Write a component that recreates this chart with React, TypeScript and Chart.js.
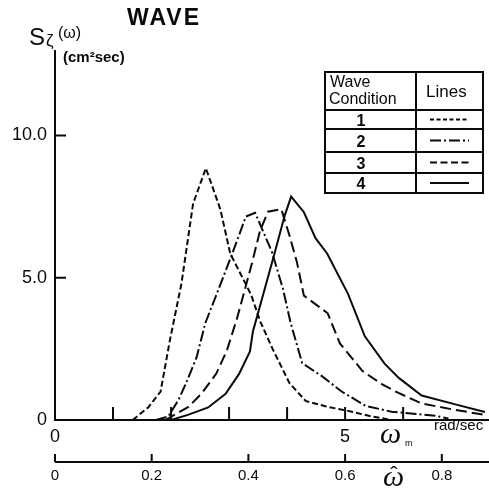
import React, { useEffect, useRef } from "react";
import { Chart, registerables } from "chart.js";

Chart.register(...registerables);

// Wave condition 1 (fine dashed)
const omega1 = [1.34, 1.61, 1.82, 1.98, 2.18, 2.38, 2.6, 2.85, 3.02, 3.38, 3.54, 3.75, 4.04, 4.32, 4.66, 5.05, 5.45, 5.8];
const spectrum1 = [0, 0.45, 1.0, 2.8, 4.8, 7.6, 8.85, 7.4, 5.85, 4.4, 3.45, 2.5, 1.3, 0.67, 0.48, 0.32, 0.13, 0];
// Wave condition 2 (dash-dot)
const omega2 = [1.74, 1.95, 2.13, 2.26, 2.44, 2.59, 2.81, 3.05, 3.29, 3.45, 3.55, 3.74, 3.93, 4.06, 4.26, 4.6, 4.94, 5.35, 5.8, 6.55, 6.78];
const spectrum2 = [0, 0.12, 0.71, 1.3, 2.2, 3.4, 4.55, 5.82, 7.15, 7.28, 6.8, 5.9, 4.6, 3.42, 2.0, 1.54, 1.0, 0.5, 0.29, 0.15, 0.05];
// Wave condition 3 (dashed)
const omega3 = [1.9, 2.3, 2.53, 2.78, 2.96, 3.14, 3.39, 3.53, 3.67, 3.9, 4.04, 4.17, 4.29, 4.7, 4.91, 5.3, 5.64, 5.92, 6.32, 6.83, 7.41];
const spectrum3 = [0, 0.46, 0.94, 1.63, 2.43, 3.59, 5.47, 6.62, 7.32, 7.41, 6.49, 5.54, 4.37, 3.75, 2.69, 1.72, 1.25, 0.95, 0.58, 0.38, 0.18];
// Wave condition 4 (solid)
const omega4 = [2.0, 2.29, 2.64, 2.94, 3.17, 3.36, 3.41, 3.6, 3.79, 3.96, 4.07, 4.29, 4.49, 4.69, 5.05, 5.34, 5.68, 5.93, 6.32, 6.9, 7.41];
const spectrum4 = [0, 0.18, 0.44, 0.92, 1.61, 2.41, 3.1, 4.5, 5.9, 7.19, 7.85, 7.3, 6.39, 5.85, 4.43, 2.94, 1.98, 1.47, 0.86, 0.55, 0.28];

const conditions = ["1", "2", "3", "4"];
const yTickValues = [0, 5, 10];
const omegaLabelTicks = [0, 5];
const omegaTickMarks = [1, 2, 3, 4, 5, 6];
const hatTickValues = [0, 0.2, 0.4, 0.6, 0.8];

const S_MAX = 13;
const OMEGA_MAX = 7.48;
const HAT_PER_OMEGA = 0.12;

const seriesOmega = [omega1, omega2, omega3, omega4];
const seriesSpectrum = [spectrum1, spectrum2, spectrum3, spectrum4];
const lineDashes: number[][] = [[6, 3], [11, 3, 2, 3], [11, 5], []];
const legendDashes: number[][] = [[4, 2.5], [11, 3, 2, 3], [7, 3.5], []];

const SANS = '"Liberation Sans", Arial, sans-serif';
const SERIF = '"Liberation Serif", "Times New Roman", serif';
const INK = "#0a0a0a";

function txt(ctx: CanvasRenderingContext2D, s: string, x: number, y: number, font: string, align: CanvasTextAlign = "left") {
  ctx.font = font;
  ctx.textAlign = align;
  ctx.textBaseline = "alphabetic";
  ctx.fillText(s, x, y);
}

const decorPlugin = {
  id: "waveDecor",
  afterDraw(chart: any) {
    const ctx: CanvasRenderingContext2D = chart.ctx;
    const xs = chart.scales.x;
    const ys = chart.scales.y;
    const xh = chart.scales.x2;
    const x0 = xs.getPixelForValue(0);
    const xEnd = xs.getPixelForValue(OMEGA_MAX);
    const y0 = ys.getPixelForValue(0);
    const yTop = ys.getPixelForValue(S_MAX);

    ctx.save();
    ctx.strokeStyle = INK;
    ctx.fillStyle = INK;
    ctx.lineWidth = 2;
    ctx.setLineDash([]);

    // axes and inward ticks
    ctx.beginPath();
    ctx.moveTo(x0, yTop);
    ctx.lineTo(x0, y0);
    ctx.lineTo(xEnd, y0);
    for (const v of omegaTickMarks) {
      const px = xs.getPixelForValue(v);
      ctx.moveTo(px, y0);
      ctx.lineTo(px, y0 - 13);
    }
    for (const v of yTickValues.slice(1)) {
      const py = ys.getPixelForValue(v);
      ctx.moveTo(x0, py);
      ctx.lineTo(x0 + 11, py);
    }
    const yh = xh.top;
    ctx.moveTo(xh.getPixelForValue(0), yh);
    ctx.lineTo(xh.right, yh);
    for (const v of hatTickValues) {
      const px = xh.getPixelForValue(v);
      ctx.moveTo(px, yh);
      ctx.lineTo(px, yh - 8);
    }
    ctx.stroke();

    // titles
    (ctx as any).letterSpacing = "2px";
    txt(ctx, "WAVE", 127, 25, `bold 23px ${SANS}`);
    (ctx as any).letterSpacing = "0px";
    txt(ctx, "S", 29, 45, `24px ${SANS}`);
    txt(ctx, "ζ", 46, 46, `17px ${SANS}`);
    txt(ctx, "(ω)", 58, 38, `16px ${SANS}`);
    txt(ctx, "(cm²sec)", 63, 62, `bold 15px ${SANS}`);

    // x-axis names
    txt(ctx, "ω", 380, 443, `italic 30px ${SERIF}`);
    txt(ctx, "m", 405, 446, `9px ${SANS}`);
    txt(ctx, "rad/sec", 434, 430, `15px ${SANS}`);
    txt(ctx, "ω", 383, 486, `italic 30px ${SERIF}`);
    txt(ctx, "ˆ", 394, 482, `22px ${SANS}`, "center");

    // legend table
    const L = 325, R = 483, D = 416;
    const rows = [72, 110, 129, 152, 173, 193];
    ctx.lineWidth = 2;
    ctx.beginPath();
    ctx.rect(L, rows[0], R - L, rows[rows.length - 1] - rows[0]);
    for (let i = 1; i < rows.length - 1; i++) {
      ctx.moveTo(L, rows[i]);
      ctx.lineTo(R, rows[i]);
    }
    ctx.moveTo(D, rows[0]);
    ctx.lineTo(D, rows[rows.length - 1]);
    ctx.stroke();
    txt(ctx, "Wave", 330, 87, `16px ${SANS}`);
    txt(ctx, "Condition", 329, 104, `16px ${SANS}`);
    txt(ctx, "Lines", 426, 97, `17px ${SANS}`);
    for (let i = 0; i < conditions.length; i++) {
      const top = rows[i + 1], bot = rows[i + 2];
      const mid = (top + bot) / 2;
      txt(ctx, conditions[i], 361, mid + 6, `bold 16px ${SANS}`, "center");
      ctx.setLineDash(legendDashes[i]);
      ctx.beginPath();
      ctx.moveTo(430, mid);
      ctx.lineTo(469, mid);
      ctx.stroke();
    }
    ctx.restore();
  },
};

export default function App() {
  const ref = useRef<HTMLCanvasElement>(null);
  useEffect(() => {
    const datasets = seriesOmega.map((om, i) => ({
      label: `Wave Condition ${conditions[i]}`,
      data: om.map((x, j) => ({ x, y: seriesSpectrum[i][j] })),
      borderColor: INK,
      borderWidth: 2,
      borderDash: lineDashes[i],
      pointRadius: 0,
      tension: 0,
      fill: false,
      xAxisID: "x",
      yAxisID: "y",
    }));
    const chart = new Chart(ref.current as HTMLCanvasElement, {
      type: "line",
      data: { datasets } as any,
      options: {
        animation: false,
        responsive: false,
        devicePixelRatio: 1,
        layout: { padding: { top: 50, left: 0, right: 0, bottom: 0 } },
        plugins: {
          legend: { display: false },
          tooltip: { enabled: false },
          title: { display: false },
        },
        scales: {
          x: {
            type: "linear",
            position: "bottom",
            weight: 0,
            min: 0,
            max: OMEGA_MAX,
            grid: { display: false, drawTicks: false },
            border: { display: false },
            afterBuildTicks: (s: any) => {
              s.ticks = omegaLabelTicks.map((v) => ({ value: v }));
            },
            afterFit: (s: any) => {
              s.height = 42;
            },
            ticks: {
              font: { family: SANS, size: 18 },
              color: INK,
              padding: 6,
              maxRotation: 0,
              autoSkip: false,
              callback: (v: any) => String(v),
            },
          },
          x2: {
            type: "linear",
            position: "bottom",
            weight: 1,
            min: 0,
            max: OMEGA_MAX * HAT_PER_OMEGA,
            grid: { display: false, drawTicks: false },
            border: { display: false },
            afterBuildTicks: (s: any) => {
              s.ticks = hatTickValues.map((v) => ({ value: v }));
            },
            afterFit: (s: any) => {
              s.height = 28;
            },
            ticks: {
              font: { family: SANS, size: 15 },
              color: INK,
              padding: 5,
              maxRotation: 0,
              autoSkip: false,
              callback: (v: any) => (Number(v) === 0 ? "0" : Number(v).toFixed(1)),
            },
          },
          y: {
            type: "linear",
            min: 0,
            max: S_MAX,
            grid: { display: false, drawTicks: false },
            border: { display: false },
            afterBuildTicks: (s: any) => {
              s.ticks = yTickValues.map((v) => ({ value: v }));
            },
            afterFit: (s: any) => {
              s.width = 55;
            },
            ticks: {
              font: { family: SANS, size: 18 },
              color: INK,
              padding: 8,
              autoSkip: false,
              callback: (v: any) => (Number(v) === 0 ? "0" : Number(v).toFixed(1)),
            },
          },
        },
      } as any,
      plugins: [decorPlugin],
    });
    return () => chart.destroy();
  }, []);
  return (
    <div style={{ position: "fixed", left: 0, top: 0, width: 489, height: 490, background: "#fff" }}>
      <canvas ref={ref} width={489} height={490} style={{ display: "block", width: 489, height: 490 }} />
    </div>
  );
}
